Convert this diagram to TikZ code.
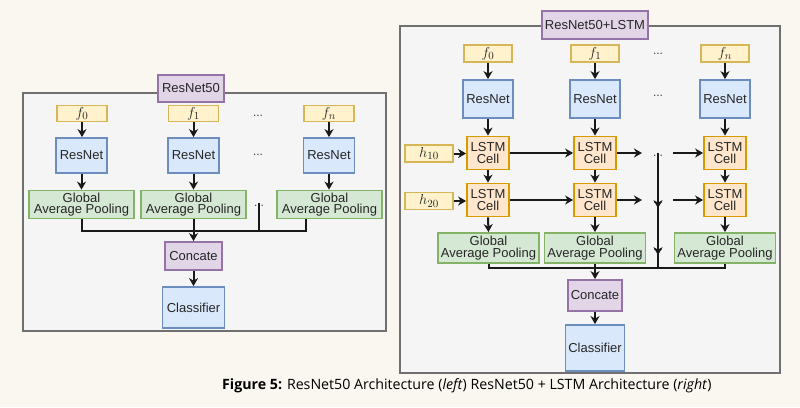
\documentclass[tikz,border=0pt]{standalone}
\usepackage{fontspec}
\setmainfont{Liberation Sans}
\newfontfamily\capfont{Open Sans}
\usetikzlibrary{arrows.meta,calc}
\definecolor{bgc}{HTML}{FAF7F0}
\definecolor{yfill}{HTML}{FFF2CC}\definecolor{ydraw}{HTML}{D6B656}
\definecolor{bfill}{HTML}{DAE8FC}\definecolor{bdraw}{HTML}{6C8EBF}
\definecolor{gfill}{HTML}{D5E8D4}\definecolor{gdraw}{HTML}{82B366}
\definecolor{pfill}{HTML}{E1D5E7}\definecolor{pdraw}{HTML}{9673A6}
\definecolor{ofill}{HTML}{FFE6CC}\definecolor{odraw}{HTML}{D79B00}
\definecolor{panfill}{HTML}{F5F5F5}\definecolor{pandraw}{HTML}{707070}
\tikzset{
  bx/.style={rectangle, inner sep=0pt, line width=1.8pt, align=center,
    font=\fontsize{13}{11.5}\selectfont, text=black!85},
  fbox/.style={bx, fill=yfill, draw=ydraw, minimum width=50pt, minimum height=16pt,
    font=\fontsize{15}{15}\selectfont},
  rbox/.style={bx, fill=bfill, draw=bdraw},
  gbox/.style={bx, fill=gfill, draw=gdraw, minimum height=28pt},
  pbox/.style={bx, fill=pfill, draw=pdraw},
  lbox/.style={bx, fill=ofill, draw=odraw, minimum width=42pt, minimum height=33pt},
  panel/.style={fill=panfill, draw=pandraw, line width=2pt},
  dots/.style={inner sep=0pt, font=\fontsize{12}{12}\selectfont, text=black!75},
  ln/.style={line width=2pt, draw=black!90},
  arr/.style={ln, -{Stealth[length=8pt,width=9pt,inset=2.5pt]}},
}
\begin{document}
\begin{tikzpicture}[x=1pt,y=-1pt]
\fill[bgc] (0,0) rectangle (800,407);
\useasboundingbox (0,0) rectangle (800,407);
% ---------------- Left panel ----------------
\draw[panel] (23,93) rectangle (386,331);
\node[pbox, minimum width=66pt, minimum height=27pt] (t1) at (191,88.5) {ResNet50};
\node[fbox] (lf0) at (82,113.5) {$f_0$};
\node[fbox] (lf1) at (193.5,113.5) {$f_1$};
\node[fbox] (lfn) at (329,113.5) {$f_n$};
\node[dots] (ld1) at (258,116) {...};
\node[rbox, minimum width=51pt, minimum height=35pt] (lr0) at (81.5,155.5) {ResNet};
\node[rbox, minimum width=51pt, minimum height=35pt] (lr1) at (193.5,155.5) {ResNet};
\node[rbox, minimum width=51pt, minimum height=35pt] (lrn) at (329,155.5) {ResNet};
\node[dots] (ld2) at (258,155) {...};
\node[gbox, minimum width=105pt] (lg0) at (81.5,204.5) {Global\\Average Pooling};
\node[gbox, minimum width=105pt] (lg1) at (193.5,204.5) {Global\\Average Pooling};
\node[gbox, minimum width=105pt] (lgn) at (329.5,204.5) {Global\\Average Pooling};
\node[dots] (ld3) at (259,206) {...};
\node[pbox, minimum width=57pt, minimum height=28pt] (lc) at (193.5,256) {Concate};
\node[rbox, minimum width=62pt, minimum height=41pt] (lcl) at (193.5,307.5) {Classifier};
\foreach \i in {0,1,n}{
  \draw[arr] (lf\i.south) -- (lf\i.south |- lr\i.north);
  \draw[arr] (lr\i.south) -- (lr\i.south |- lg\i.north);
}
\coordinate (lb0) at (81.5,231);
\coordinate (lbn) at (306,231);
\coordinate (lj) at (193.5,231);
\draw[ln] (lg0.south) -- (lb0) -- (lbn) -- (lbn |- lgn.south);
\draw[ln] (lg1.south) -- (lj);
\draw[ln] ([yshift=4pt]ld3.south) -- (ld3.south |- lb0);
\draw[arr] (lj) -- (lc.north);
\draw[arr] (lc.south) -- (lcl.north);
% ---------------- Right panel ----------------
\draw[panel] (400,26) rectangle (780,373);
\node[pbox, minimum width=106pt, minimum height=28pt] (t2) at (595,25) {ResNet50+LSTM};
\node[fbox, minimum width=48pt, minimum height=17pt] (rf0) at (488,53.5) {$f_0$};
\node[fbox, minimum width=48pt, minimum height=17pt] (rf1) at (595,53.5) {$f_1$};
\node[fbox, minimum width=48pt, minimum height=17pt] (rfn) at (725,53.5) {$f_n$};
\node[dots] (rd1) at (658,54) {...};
\node[rbox, minimum width=50pt, minimum height=38pt] (rr0) at (488,99) {ResNet};
\node[rbox, minimum width=50pt, minimum height=38pt] (rr1) at (595,99) {ResNet};
\node[rbox, minimum width=50pt, minimum height=38pt] (rrn) at (725,99) {ResNet};
\node[dots] (rd2) at (658,96) {...};
\node[lbox] (la0) at (488,153) {LSTM\\Cell};
\node[lbox] (la1) at (595,153) {LSTM\\Cell};
\node[lbox] (lan) at (725,153) {LSTM\\Cell};
\node[lbox] (lb0x) at (488,200) {LSTM\\Cell};
\node[lbox] (lb1x) at (595,200) {LSTM\\Cell};
\node[lbox] (lbnx) at (725,200) {LSTM\\Cell};
\node[fbox, minimum width=48pt, minimum height=17pt] (h1) at (429,153.5) {$h_{10}$};
\node[fbox, minimum width=48pt, minimum height=17pt] (h2) at (429,201) {$h_{20}$};
\node[dots] (rd3) at (658,156) {...};
\node[dots] (rd4) at (658,203) {...};
\node[gbox, minimum width=101pt, minimum height=30pt] (rg0) at (488.5,248) {Global\\Average Pooling};
\node[gbox, minimum width=101pt, minimum height=30pt] (rg1) at (595,248) {Global\\Average Pooling};
\node[gbox, minimum width=101pt, minimum height=30pt] (rgn) at (725,248) {Global\\Average Pooling};
\node[dots] (rd5) at (658,250) {...};
\node[pbox, minimum width=54pt, minimum height=31pt] (rc) at (595,295.5) {Concate};
\node[rbox, minimum width=59pt, minimum height=46pt] (rcl) at (595,348) {Classifier};
\draw[arr] (rf0.south) -- (rr0.north);
\draw[arr] (rf1.south) -- (rr1.north);
\draw[arr] (rfn.south) -- (rrn.north);
\draw[arr] (rr0.south) -- (la0.north);
\draw[arr] (rr1.south) -- (la1.north);
\draw[arr] (rrn.south) -- (lan.north);
\draw[arr] (la0.south) -- (lb0x.north);
\draw[arr] (la1.south) -- (lb1x.north);
\draw[arr] (lan.south) -- (lbnx.north);
\draw[arr] (lb0x.south) -- (rg0.north);
\draw[arr] (lb1x.south) -- (rg1.north);
\draw[arr] (lbnx.south) -- (rgn.north);
\draw[arr] (h1.east) -- (la0.west |- h1.east);
\draw[arr] (h2.east) -- (lb0x.west |- h2.east);
\draw[arr] (la0.east) -- (la1.west);
\draw[arr] (lb0x.east) -- (lb1x.west);
\coordinate (e1) at (642,153);
\coordinate (s1) at (673,153);
\coordinate (e2) at (642,200);
\coordinate (s2) at (673,200);
\draw[arr] (la1.east) -- (e1);
\draw[arr] (s1) -- (lan.west);
\draw[arr] (lb1x.east) -- (e2);
\draw[arr] (s2) -- (lbnx.west);
\draw[arr] ([yshift=4pt]rd3.south) -- ([yshift=-6pt]rd4.north);
\draw[arr] ([yshift=4pt]rd4.south) -- ([yshift=-6pt]rd5.north);
\coordinate (rj) at (595,268);
\draw[ln] (rg0.south) -- (rg0.south |- rj) -- (rgn.south |- rj) -- (rgn.south);
\draw[ln] (rg1.south) -- (rj);
\draw[ln] ([yshift=4pt]rd5.south) -- (rd5.south |- rj);
\draw[arr] (rj) -- (rc.north);
\draw[arr] (rc.south) -- (rcl.north);
% ---------------- Caption ----------------
\node[anchor=west, inner sep=0pt, font=\capfont\fontsize{14.2}{16}\selectfont] (cap) at (222,386)
  {\textbf{Figure 5:} ResNet50 Architecture (\textit{left}) ResNet50 + LSTM Architecture (\textit{right})};
\end{tikzpicture}
\end{document}
